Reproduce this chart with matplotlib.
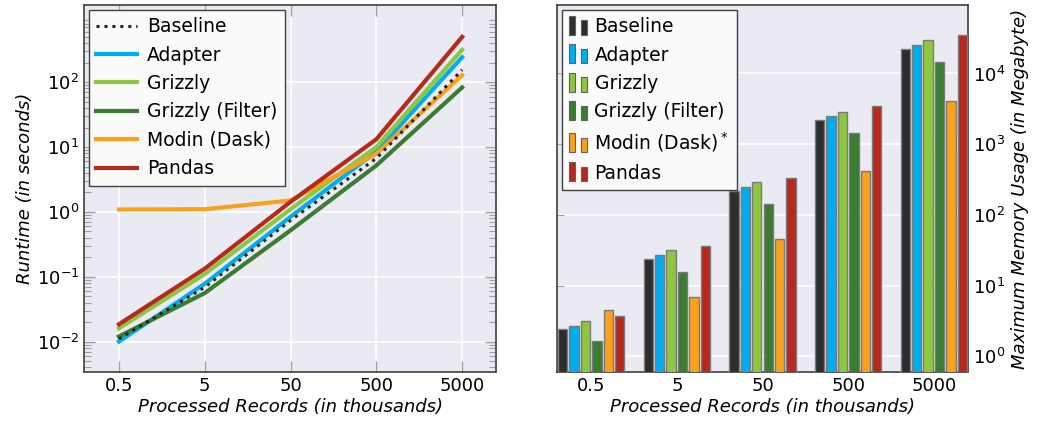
import matplotlib
matplotlib.use("Agg")
import matplotlib.pyplot as plt
import numpy as np
from matplotlib.patches import Rectangle
from matplotlib.legend_handler import HandlerBase
from matplotlib.ticker import LogLocator, NullFormatter, FixedLocator

plt.rcParams['font.family'] = ['DejaVu Sans']
plt.rcParams['mathtext.fontset'] = 'dejavusans'

# ---------------- data ----------------
records = [0.5, 5, 50, 500, 5000]
record_labels = ["0.5", "5", "50", "500", "5000"]
systems = ["Baseline", "Adapter", "Grizzly", "Grizzly (Filter)", "Modin (Dask)", "Pandas"]
bar_labels = ["Baseline", "Adapter", "Grizzly", "Grizzly (Filter)", "Modin (Dask)$^*$", "Pandas"]
colors = ["#2d2d2d", "#00aeef", "#8dc63f", "#3a7d30", "#f9a11b", "#b52a1d"]

runtime_baseline = [0.011, 0.069, 0.74, 6.7, 155]
runtime_adapter = [0.010, 0.078, 0.84, 8.5, 243]
runtime_grizzly = [0.016, 0.11, 1.1, 10.0, 316]
runtime_filter = [0.012, 0.056, 0.52, 5.2, 83]
runtime_modin = [1.09, 1.10, 1.5, 7.9, 128]
runtime_pandas = [0.0185, 0.133, 1.43, 13.2, 500]
runtimes = [runtime_baseline, runtime_adapter, runtime_grizzly,
            runtime_filter, runtime_modin, runtime_pandas]

memory_baseline = [2.41, 23.8, 216, 2180, 21900]
memory_adapter = [2.69, 26.9, 249, 2515, 25200]
memory_grizzly = [3.16, 32.0, 293, 2895, 29300]
memory_filter = [1.63, 15.5, 144, 1462, 14700]
memory_modin = [4.57, 7.0, 45, 415, 4060]
memory_pandas = [3.68, 36.0, 337, 3415, 34800]
memories = [memory_baseline, memory_adapter, memory_grizzly,
            memory_filter, memory_modin, memory_pandas]

bg = "#eaeaf2"
spine_c = "#404040"
tick_c = "#a0a0a0"
fs = 13
lfs = 13.5

fig = plt.figure(figsize=(10.43, 4.26), dpi=100)
W, H = 1043, 426

# ---------------- left: runtime ----------------
ax1 = fig.add_axes([84 / W, (H - 372) / H, (496 - 84) / W, (372 - 5) / H])
ax1.set_facecolor(bg)
ax1.set_xscale("log")
ax1.set_yscale("log")
for i, (name, vals) in enumerate(zip(systems, runtimes)):
    if name == "Baseline":
        ax1.plot(records, vals, color="#222222", lw=2.2, ls=(0, (1, 1.6)),
                 label=name, zorder=5)
    else:
        ax1.plot(records, vals, color=colors[i], lw=3, label=name, zorder=3)
ax1.set_xlim(0.196, 12400)
ax1.set_ylim(0.0034, 1550)
ax1.xaxis.set_major_locator(FixedLocator(records))
ax1.set_xticklabels(record_labels)
ax1.xaxis.set_minor_locator(FixedLocator([]))
ax1.yaxis.set_major_locator(FixedLocator([0.01, 0.1, 1, 10, 100]))
ax1.set_yticklabels(["$10^{-2}$", "$10^{-1}$", "$10^{0}$", "$10^{1}$", "$10^{2}$"])
ax1.yaxis.set_minor_locator(LogLocator(base=10, subs=np.arange(2, 10), numticks=20))
ax1.yaxis.set_minor_formatter(NullFormatter())
ax1.grid(True, which="major", color="white", lw=1.2, zorder=0)
ax1.set_axisbelow(True)
ax1.tick_params(axis="both", which="both", direction="in", color=tick_c,
                top=True, right=True, labelsize=fs)
ax1.tick_params(axis="y", which="major", length=8, width=1)
ax1.tick_params(axis="y", which="minor", length=5, width=0.8)
ax1.tick_params(axis="x", which="major", length=8, width=1)
for s in ax1.spines.values():
    s.set_color(spine_c)
    s.set_linewidth(1.2)
ax1.set_xlabel("Processed Records (in thousands)", fontsize=fs, style="italic", labelpad=2)
ax1.set_ylabel("Runtime (in seconds)", fontsize=fs, style="italic", labelpad=2)
leg1 = ax1.legend(loc="upper left", fontsize=lfs, frameon=True, fancybox=False,
                  handlelength=2.2, handletextpad=0.5, labelspacing=0.5,
                  borderpad=0.4, borderaxespad=0.25)
leg1.get_frame().set_edgecolor(spine_c)
leg1.get_frame().set_facecolor("#fafafa")
leg1.get_frame().set_alpha(1)
leg1.get_frame().set_linewidth(1.0)


# ---------------- right: memory ----------------
class TwoBarHandler(HandlerBase):
    def __init__(self, color):
        super().__init__()
        self.color = color

    def create_artists(self, legend, orig_handle, xdescent, ydescent, width,
                       height, fontsize, trans):
        bw = width * 0.28
        r1 = Rectangle((-xdescent, -ydescent - height * 0.2), bw, height * 1.45,
                       facecolor=self.color, edgecolor="#606060", lw=0.8,
                       transform=trans)
        r2 = Rectangle((-xdescent + width * 0.58, -ydescent - height * 0.2), bw,
                       height * 1.1, facecolor=self.color, edgecolor="#606060",
                       lw=0.8, transform=trans)
        return [r1, r2]


ax2 = fig.add_axes([557 / W, (H - 372) / H, (968 - 557) / W, (372 - 5) / H])
ax2.set_facecolor(bg)
ax2.set_yscale("log")
x = np.arange(len(records))
step = 0.1335
bw = 0.109
handles = []
for i, vals in enumerate(memories):
    b = ax2.bar(x + (i - 2.5) * step, vals, width=bw, color=colors[i],
                edgecolor="#7a7a7a", linewidth=1.0, zorder=3)
    handles.append(b)
ax2.set_xlim(-0.40, 4.40)
ax2.set_ylim(0.6, 93000)
ax2.set_xticks(x)
ax2.set_xticklabels(record_labels)
ax2.yaxis.set_major_locator(FixedLocator([1, 10, 100, 1000, 10000]))
ax2.set_yticklabels(["$10^{0}$", "$10^{1}$", "$10^{2}$", "$10^{3}$", "$10^{4}$"])
ax2.yaxis.set_minor_locator(FixedLocator([]))
ax2.yaxis.tick_right()
ax2.yaxis.set_label_position("right")
ax2.grid(True, axis="y", which="major", color="white", lw=1.2, zorder=0)
ax2.set_axisbelow(True)
ax2.tick_params(axis="x", which="both", length=0, labelsize=fs)
ax2.tick_params(axis="y", which="major", direction="in", length=5, color=tick_c,
                left=True, right=False, labelsize=fs)
for s in ax2.spines.values():
    s.set_color(spine_c)
    s.set_linewidth(1.2)
ax2.set_xlabel("Processed Records (in thousands)", fontsize=fs, style="italic", labelpad=2)
ax2.set_ylabel("Maximum Memory Usage (in Megabyte)", fontsize=fs, style="italic",
               labelpad=4)
handler_map = {h: TwoBarHandler(colors[i]) for i, h in enumerate(handles)}
leg2 = ax2.legend(handles, bar_labels, loc="upper left", fontsize=lfs, frameon=True,
                  fancybox=False, handler_map=handler_map, handlelength=1.1,
                  handletextpad=0.25, labelspacing=0.5, borderpad=0.4,
                  borderaxespad=0.25)
leg2.get_frame().set_edgecolor(spine_c)
leg2.get_frame().set_facecolor("#fafafa")
leg2.get_frame().set_alpha(1)
leg2.get_frame().set_linewidth(1.0)

fig.savefig("out.png", dpi=100)
